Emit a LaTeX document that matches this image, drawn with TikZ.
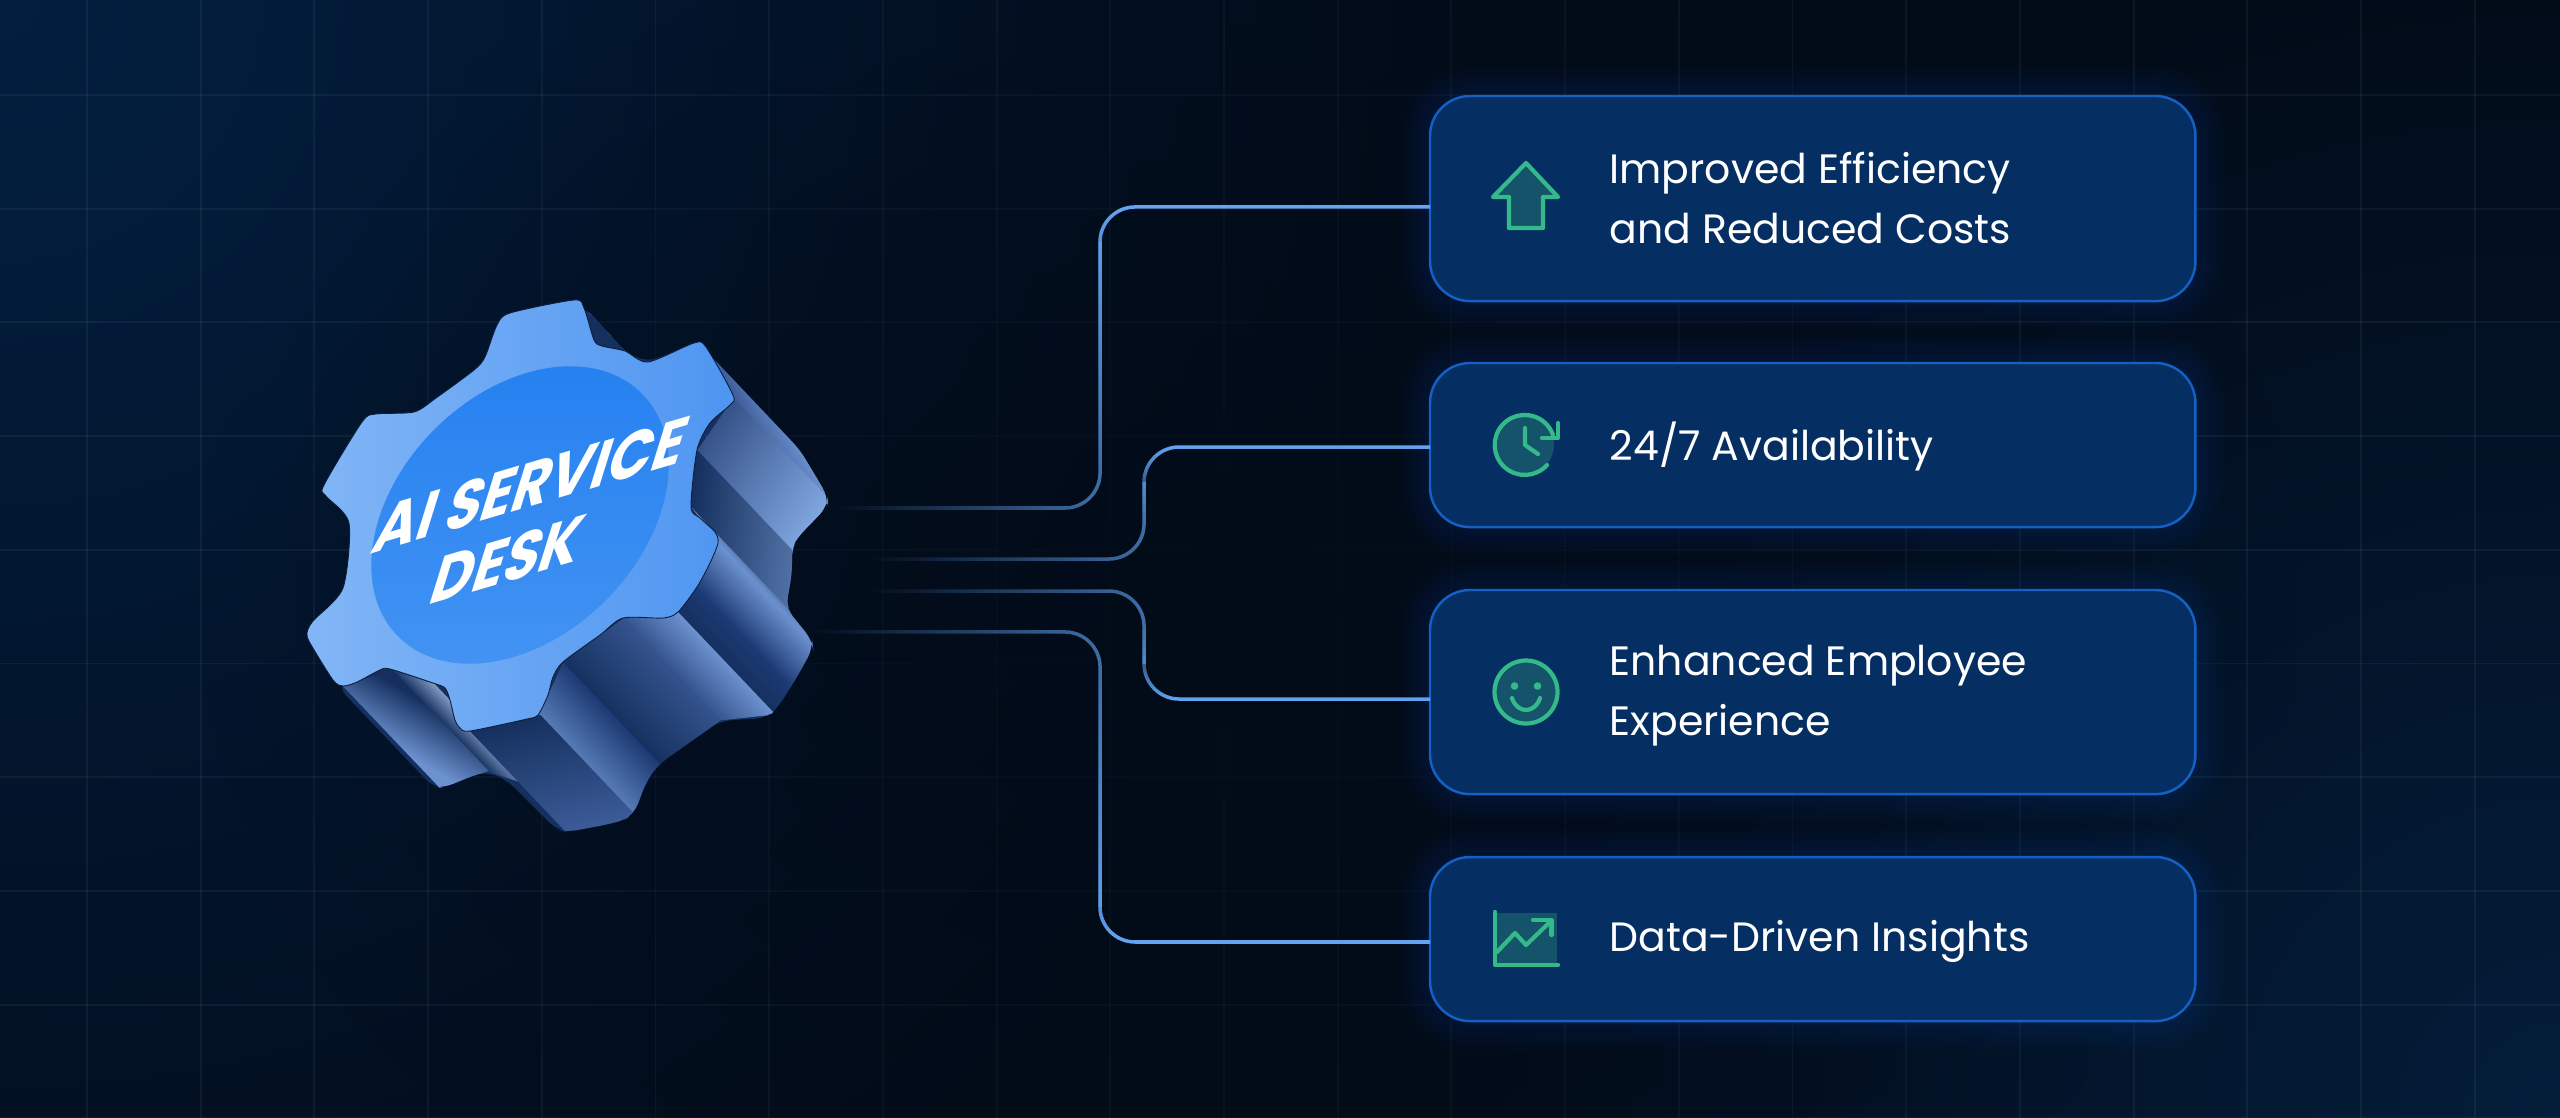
\documentclass[tikz,border=0pt]{standalone}
\usepackage{fontspec}
\setmainfont{Poppins}
\usetikzlibrary{fadings,calc}

\definecolor{nightbg}{HTML}{020B18}
\definecolor{glowtl}{HTML}{021F40}
\definecolor{glowbr}{HTML}{031D3A}
\definecolor{cardfill}{HTML}{052F63}
\definecolor{cardline}{HTML}{1560C4}
\definecolor{cardglow}{HTML}{0A4290}
\definecolor{linkbright}{HTML}{64A5F5}
\definecolor{linkdim}{HTML}{3F6EA5}
\definecolor{icongreen}{HTML}{34B98A}
\definecolor{icontint}{HTML}{14536A}
\definecolor{gearpale}{HTML}{82B6F6}
\definecolor{gearbase}{HTML}{4E95F1}
\definecolor{hubtop}{HTML}{2480F0}
\definecolor{hubbottom}{HTML}{4494F3}
\definecolor{sidedeep}{HTML}{15305F}
\definecolor{sidenavy}{HTML}{1C3A74}
\definecolor{sidemid}{HTML}{3C5C98}
\definecolor{sidesteel}{HTML}{5A7EB8}
\definecolor{sidesky}{HTML}{6D92D0}
\definecolor{sidepale}{HTML}{80A6E0}

\tikzfading[name=fade rise, left color=transparent!100, right color=transparent!0]
\tikzfading[name=fade up, bottom color=transparent!100, top color=transparent!0]
\tikzfading[name=fade down, top color=transparent!100, bottom color=transparent!0]
\tikzfading[name=fade hole, inner color=transparent!0, outer color=transparent!100]

\tikzset{
  card/.style={draw=cardline, fill=cardfill, line width=.7pt, rounded corners=.4cm,
    minimum width=7.65cm, inner sep=0pt, outer sep=0pt, anchor=north west},
  cardtext/.style={text=white, font=\fontsize{11.65}{17.1}\selectfont, align=left,
    anchor=west, inner sep=0pt},
  link/.style={line width=1pt, rounded corners=10pt},
  iconline/.style={draw=icongreen, line width=1.2pt, line join=round, line cap=round},
  gearlabel/.style={text=white, font=\fontsize{17}{18.6}\bfseries\selectfont, align=center,
    inner sep=0pt, transform shape, rotate=16.5, xslant=.67}
}

% one side of the gear: front edge A to B, pushed back along the depth vector
\newcommand{\facet}[5]{%
  \pgfmathsetmacro\fx{(#3-#1)/100}
  \pgfmathsetmacro\fy{(#2-#4)/100}
  \shade[x=1cm, y=1cm, transform canvas={cm={\fx,\fy,.97,-1.02,(#1/100,-#2/100)}}, #5]
    (0,0) rectangle (1.03,1);
}

\begin{document}
\begin{tikzpicture}[x=.01cm, y=-.01cm]

  \useasboundingbox (0,0) rectangle (2560,1117);

  % Background
  \fill[nightbg] (-20,-20) rectangle (2580,1137);
  \begin{scope}
    \clip (-20,-20) rectangle (2580,1137);
    \shade[inner color=glowtl, outer color=nightbg] (0,0) circle (1500);
    \shade[inner color=glowbr, outer color=nightbg] (2560,1117) circle (1150);
    \foreach \k in {0,...,21}
      \draw[white, opacity=.05, line width=.55pt] (87+113.7*\k,-20) -- (87+113.7*\k,1137);
    \foreach \k in {0,...,9}
      \draw[white, opacity=.05, line width=.55pt] (-20,95+113.7*\k) -- (2580,95+113.7*\k);
    \fill[nightbg, path fading=fade hole] (1250,600) ellipse (1050 and 800);
  \end{scope}

  % Gear sides
  \begin{scope}
    \path[clip, rounded corners=3pt] (584,306) -- (627,353) -- (648,362) -- (694,343) -- (710,355)
      -- (800,450) -- (815,475) -- (828,497) -- (827,507) -- (797,538) -- (792,547) -- (792,573)
      -- (786,608) -- (812,640) -- (813,648) -- (797,677) -- (778,707) -- (767,718) -- (733,720)
      -- (720,721) -- (659,764) -- (647,780) -- (634,814) -- (620,822) -- (567,832) -- (557,830)
      -- (507,780) -- (487,772) -- (477,774) -- (443,788) -- (433,787) -- (338,687) -- (500,500) -- cycle;
    \fill[sidedeep] (300,290) rectangle (840,840);
    \facet{584}{308}{625}{351}{left color=sidenavy, right color=sidesteel}
    \facet{706}{347}{733}{398}{bottom color=sidemid, top color=sidesky}
    \facet{733}{398}{697}{450}{bottom color=sidemid!90!black, top color=sidepale}
    \facet{697}{450}{691}{507}{bottom color=sidedeep, middle color=sidedeep!85!sidemid, top color=sidesteel!90!black}
    \facet{691}{507}{718}{543}{left color=sidesteel, right color=sidesky}
    \facet{718}{543}{697}{587}{left color=sidesky, right color=sidenavy}
    \facet{697}{587}{678}{612}{left color=sidenavy, right color=sidedeep}
    \facet{678}{612}{623}{618}{left color=sidesky, right color=sidemid!80!sidedeep}
    \facet{623}{618}{563}{662}{left color=sidemid!80!sidedeep, right color=sidedeep}
    \facet{563}{662}{538}{715}{left color=sidenavy, right color=sidesteel}
    \facet{390}{669}{433}{683}{left color=sidedeep, right color=sidepale!70!gray}
    \facet{343}{686}{390}{669}{bottom color=sidedeep, top color=sidesky, shading angle=45}
    \facet{470}{731}{538}{715}{bottom color=sidedeep, top color=sidemid}
  \end{scope}

  % Gear front
  \shade[left color=gearpale, right color=gearbase, draw=sidedeep!60!black, line width=.25pt]
    plot[smooth cycle, tension=.45] coordinates {(574,300) (584,308) (594,340) (602,346) (625,351)
      (648,362) (694,343) (706,347) (733,395) (730,405) (710,423) (697,450) (691,507) (700,518)
      (715,532) (718,543) (710,563) (697,587) (678,612) (663,618) (623,618) (600,635) (563,662)
      (553,677) (548,695) (538,715) (527,719) (470,731) (460,728) (455,720) (450,700) (445,688)
      (433,683) (390,669) (380,670) (357,682) (343,686) (333,680) (310,643) (307,633) (313,621)
      (343,588) (349,523) (326,496) (324,485) (362,422) (376,414) (414,412) (436,398) (474,370)
      (485,357) (497,325) (510,313)};
  \shade[top color=hubtop, bottom color=hubbottom, rotate around={45:(520,515)}]
    (520,515) ellipse (172 and 121);
  \node[gearlabel] (gearname) at (520,522) {AI SERVICE\\DESK};

  % Cards
  \foreach \name/\ytop/\ybot in {effcard/96/301, availcard/363/527, empcard/590/794, datacard/857/1021} {
    \foreach \w in {10,18,...,58}
      \draw[cardglow, opacity=.035, line width=\w*.2845pt, rounded corners=.4cm]
        (1430,\ytop) rectangle (2195,\ybot);
    \pgfmathsetmacro\cardh{(\ybot-\ytop)/100}
    \node[card, minimum height=\cardh cm] (\name) at (1430,\ytop) {};
  }

  \node[cardtext] (efftext) at (1609,198) {Improved Efficiency\\and Reduced Costs};
  \node[cardtext] (availtext) at (1609,446) {24/7 Availability};
  \node[cardtext] (emptext) at (1609,696) {Enhanced Employee\\Experience};
  \node[cardtext] (datatext) at (1609,941) {Data-Driven Insights};

  % Links from the gear
  \coordinate (effout) at (833,508);
  \coordinate (availout) at (870,559);
  \coordinate (empout) at (870,591);
  \coordinate (dataout) at (812,632);
  \coordinate (effin) at (effcard.west |- 0,207);
  \coordinate (availin) at (availcard.west |- 0,447);
  \coordinate (empin) at (empcard.west |- 0,699);
  \coordinate (datain) at (datacard.west |- 0,942);

  \foreach \from/\into/\xb/\sgn/\fade in {effout/effin/1100/-1/fade up, availout/availin/1144/-1/fade up,
      empout/empin/1144/1/fade down, dataout/datain/1100/1/fade down} {
    \draw[link, linkdim, path fading=fade rise]
      (\from) -- (\from -| \xb,0) -- ($(\into -| \xb,0)+(0,-35*\sgn)$);
    \draw[link, linkbright, path fading=\fade]
      ($(\from -| \xb,0)+(0,35*\sgn)$) -- (\into -| \xb,0) -- (\into);
  }

  % Arrow icon
  \draw[iconline, fill=icontint] (1526,163) -- (1558,197) -- (1543,197) -- (1543,228) -- (1509,228)
    -- (1509,197) -- (1493,197) -- cycle;

  % Clock icon
  \fill[icontint] (1525,445) circle (29);
  \draw[iconline] (1547,465) arc[start angle=42, end angle=340, radius=30];
  \draw[iconline] (1558,423) -- (1558,438) -- (1542,438);
  \draw[iconline] (1525,428) -- (1525,445) -- (1538,454);

  % Smile icon
  \draw[iconline, fill=icontint] (1526,692) circle (31.5);
  \fill[icongreen] (1514.5,686) circle (3.8);
  \fill[icongreen] (1537.5,686) circle (3.8);
  \draw[iconline] (1512,698) .. controls (1517,714) and (1535,714) .. (1540,698);

  % Chart icon
  \fill[icontint] (1495,913) rectangle (1557,965);
  \draw[iconline] (1495,912) -- (1495,965) -- (1558,965);
  \draw[iconline] (1497,952) -- (1515,933) -- (1526,945) -- (1551,921);
  \draw[iconline] (1533,920) -- (1551.5,920) -- (1551.5,935);

\end{tikzpicture}
\end{document}
